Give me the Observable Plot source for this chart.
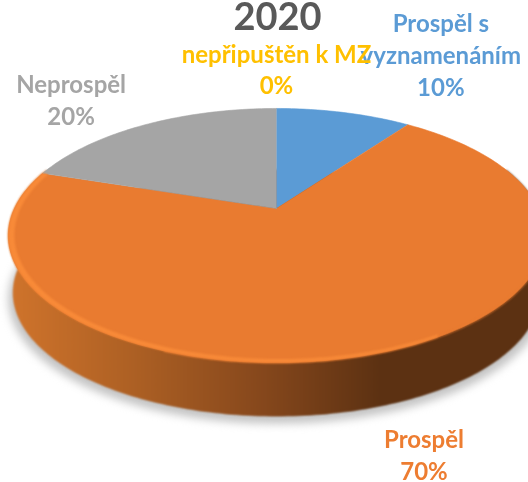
<!DOCTYPE html>
<html lang="cs">
<head>
<meta charset="utf-8">
<script src="https://cdn.jsdelivr.net/npm/d3@7"></script>
<script src="https://cdn.jsdelivr.net/npm/@observablehq/plot@0.6"></script>
<style>
html,body{margin:0;padding:0;background:#fff;}
svg{display:block;}
.shadow{filter:blur(4px);}
.soft{filter:blur(.8px);}
.softtext{filter:blur(.35px);}
</style>
</head>
<body>
<div id="chart"></div>
<script>
const title = "2020";
const categories = ["Prospěl s\nvyznamenáním", "Prospěl", "Neprospěl", "nepřipuštěn k MZ"];
const values = [10, 70, 20, 0];
const colors = ["#5B9BD5", "#E97B30", "#A5A5A5", "#FFC000"];
const textColors = ["#5B9BD5", "#ED7D31", "#A5A5A5", "#FFC000"];

// perspective view of the disc
const view = {cx: 276, cy: 208, a: 262, b: 121.3, k: 0.2126};
const lower = {...view, cy: 266, a: 257, b: 117.5};
const inner = {...view, cx: 279, a: 259, b: 118.5};
const shadow = {...view, cx: 276, cy: 272, a: 262, b: 119};

const rim = (p, deg) => {
  const t = deg * Math.PI / 180, u = Math.sin(t), v = Math.cos(t), d = 1 + p.k * v;
  return {x: p.cx + p.a * u / d, y: p.cy - p.b * v / d};
};
const arc = (p, from, to) => {
  const n = Math.max(1, Math.ceil(Math.abs(to - from)));
  return d3.range(n + 1).map(i => rim(p, from + (to - from) * i / n));
};

let acc = 0;
const slices = categories.map((name, i) => {
  const start = acc * 3.6; acc += values[i];
  return {name, value: values[i], start, end: acc * 3.6, mid: (start + acc * 3.6) / 2, color: colors[i], text: textColors[i], label: `${name}\n${values[i]}%`};
});
const wedge = (p, s) => [{x: p.cx, y: p.cy}, ...arc(p, s.start, s.end)].map(q => ({...q, name: s.name, color: s.color}));
const orange = slices[1];
const wedges = slices.filter(s => s.value > 0).map(s => wedge(view, s)).flat();
const band = [...arc(view, 70, 290), ...arc(lower, 290, 70)];
const bevel = [...arc(view, 150, orange.end), ...arc(inner, orange.end, 150)];

const labelOffsets = [[97, -17], [46, 127], [-74, 0], [0, -14]];
const labelMark = i => Plot.text([slices[i]], {
  x: d => rim(view, d.mid).x, y: d => rim(view, d.mid).y, text: "label",
  fill: "text", fontFamily: "Lato", fontWeight: 700, fontSize: 24, lineHeight: 1.32,
  lineAnchor: "bottom", dx: labelOffsets[i][0], dy: labelOffsets[i][1], className: "softtext"
});

const chart = Plot.plot({
  width: 528, height: 482,
  margin: 0,
  x: {domain: [0, 528], axis: null},
  y: {domain: [482, 0], axis: null},
  color: {type: "identity"},
  style: {background: "#fff", overflow: "hidden"},
  marks: [
    Plot.line(arc(shadow, 0, 360), {x: "x", y: "y", fill: "#c4c4c4", stroke: "none", className: "shadow"}),
    Plot.line(arc(lower, 0, 360), {x: "x", y: "y", fill: "url(#sideGrad)", stroke: "none", className: "soft"}),
    Plot.line(band, {x: "x", y: "y", fill: "url(#sideGrad)", stroke: "none", className: "soft"}),
    Plot.line(wedges, {x: "x", y: "y", z: "name", fill: "color", stroke: "color", strokeWidth: 0.6}),
    Plot.line(arc(view, 100, 200), {x: "x", y: "y", stroke: colors[1], strokeWidth: 1.5, className: "soft"}),
    Plot.line(bevel, {x: "x", y: "y", fill: "#F88A38", stroke: "none", className: "soft"}),
    labelMark(0), labelMark(1), labelMark(2), labelMark(3),
    Plot.text([title], {frameAnchor: "top", text: d => d, dx: 13, dy: 3, fill: "#595959", fontFamily: "Lato", fontWeight: 700, fontSize: 38, lineAnchor: "top", className: "softtext"})
  ]
});

const defs = d3.create("svg:defs");
const grad = defs.append("linearGradient").attr("id", "sideGrad").attr("gradientUnits", "userSpaceOnUse")
  .attr("x1", 0).attr("x2", 528).attr("y1", 0).attr("y2", 0);
[[0, "#D2752C"], [0.25, "#AD6024"], [0.5, "#85471C"], [0.72, "#5C3112"], [1, "#5C3112"]]
  .forEach(([o, c]) => grad.append("stop").attr("offset", o).attr("stop-color", c));
chart.insertBefore(defs.node(), chart.firstChild);
document.getElementById("chart").append(chart);
</script>
</body>
</html>
